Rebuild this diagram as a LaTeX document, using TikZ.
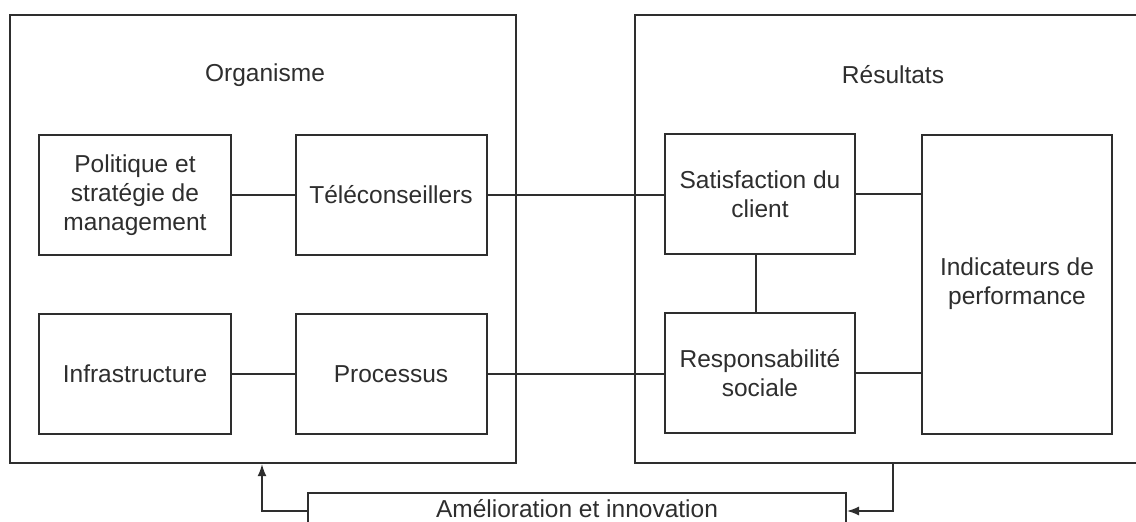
\documentclass[tikz,border=0pt]{standalone}
\usepackage{fontspec}
\setmainfont{Liberation Sans}
\usetikzlibrary{arrows.meta}
\definecolor{ink}{HTML}{2E2E2E}
\tikzset{
  frame/.style={draw=ink, line width=2.4pt, inner sep=0pt},
  block/.style={draw=ink, line width=2pt, align=center, inner sep=0pt,
    text=ink, font=\fontsize{24.5}{29}\selectfont},
  title/.style={text=ink, font=\fontsize{24.5}{29}\selectfont, inner sep=0pt},
  link/.style={draw=ink, line width=1.4pt},
  feedback/.style={draw=ink, line width=1.4pt, -{Latex[length=12pt,width=9pt]}}
}
\begin{document}
\begin{tikzpicture}[x=1pt, y=-1pt]
  \useasboundingbox (0,0) rectangle (1136,522);
  \clip (0,0) rectangle (1136,522);
  \fill[white] (0,0) rectangle (1136,522);

  % outer frames
  \node[frame, minimum width=506pt, minimum height=448pt] (org) at (263,239) {};
  \node[frame, minimum width=510pt, minimum height=448pt] (res) at (890,239) {};
  \node[title] (orgT) at (265,75) {Organisme};
  \node[title] (resT) at (893,75) {Résultats};

  % inner blocks, left
  \node[block, minimum width=192pt, minimum height=120pt] (pol) at (135,195)
    {Politique et\\stratégie de\\management};
  \node[block, minimum width=191pt, minimum height=120pt] (tel) at (391,195)
    {Téléconseillers};
  \node[block, minimum width=192pt, minimum height=120pt] (inf) at (135,374)
    {Infrastructure};
  \node[block, minimum width=191pt, minimum height=120pt] (pro) at (391,374)
    {Processus};

  % inner blocks, right
  \node[block, minimum width=190pt, minimum height=120pt] (sat) at (760,194)
    {Satisfaction du\\client};
  \node[block, minimum width=190pt, minimum height=120pt] (rsp) at (760,373)
    {Responsabilité\\sociale};
  \node[block, minimum width=190pt, minimum height=299pt] (ind) at (1017,284)
    {Indicateurs de\\performance};

  % bottom block, running past the lower edge
  \node[block, minimum width=538pt, minimum height=36pt] (amel) at (577,511) {};
  \node[title] (amelT) at (577,509) {Amélioration et innovation};

  % links
  \draw[link] (pol.east) -- (tel.west);
  \draw[link] (inf.east) -- (pro.west);
  \draw[link] (tel.east) -- (tel.east -| sat.west);
  \draw[link] (pro.east) -- (pro.east -| rsp.west);
  \draw[link] (sat.south -| 756,0) -- (rsp.north -| 756,0);
  \draw[link] (sat.east) -- (sat.east -| ind.west);
  \draw[link] (rsp.east) -- (rsp.east -| ind.west);

  % feedback loop
  \coordinate (up) at (org.south -| 262,0);
  \coordinate (down) at (res.south -| 893,0);
  \draw[feedback] (amel.west) -| (up);
  \draw[feedback] (down) |- (amel.east);
\end{tikzpicture}
\end{document}
